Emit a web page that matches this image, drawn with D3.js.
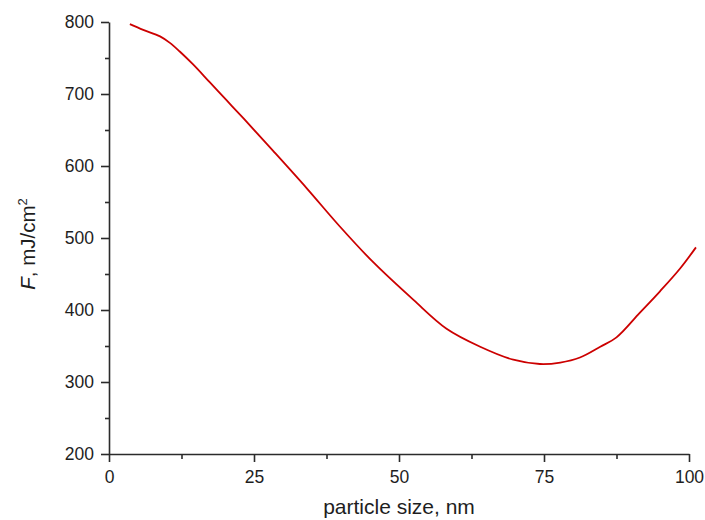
<!DOCTYPE html>
<html>
<head>
<meta charset="utf-8">
<script src="https://cdn.jsdelivr.net/npm/d3@7"></script>
<style>
  html, body { margin: 0; padding: 0; background: #fff; }
  svg { display: block; font-family: "Liberation Sans", Arial, sans-serif; }
</style>
</head>
<body>
<svg id="chart" width="705" height="520"></svg>
<script>
// Data
const sizeNm = [3.6, 5.9, 8.8, 10.5, 12.2, 14.5, 17.4, 20.3, 23.2, 28.3, 34.1, 39.8, 45.6, 52.5, 58.2, 64.0, 69.7, 74.3, 77.8, 81.2, 84.7, 87.5, 91.5, 95.0, 98.5, 101.2];
const fluence = [797, 789, 780, 771, 759, 741, 716, 691, 666, 621, 569, 516, 466, 414, 374, 349, 331, 325, 327, 334, 349, 362, 396, 426, 458, 487];
const xMajorTicks = [0, 25, 50, 75, 100];
const xMinorTicks = [12.5, 37.5, 62.5, 87.5];
const yMajorTicks = [200, 300, 400, 500, 600, 700, 800];
const yMinorTicks = [250, 350, 450, 550, 650, 750];
const xTitle = "particle size, nm";

const svg = d3.select("#chart");
const x = d3.scaleLinear().domain([0, 100]).range([109, 689]);
const y = d3.scaleLinear().domain([200, 800]).range([454, 22]);

const axisColor = "#2b2b2b";
const textColor = "#1e1e1e";

// minor ticks
svg.append("g").attr("transform", `translate(0,${y(200)})`)
  .call(d3.axisBottom(x).tickValues(xMinorTicks).tickSize(5).tickFormat(""))
  .call(g => g.select(".domain").remove())
  .call(g => g.selectAll("line").attr("stroke", axisColor).attr("stroke-width", 1.6));
svg.append("g").attr("transform", `translate(${x(0)},0)`)
  .call(d3.axisLeft(y).tickValues(yMinorTicks).tickSize(4).tickFormat(""))
  .call(g => g.select(".domain").remove())
  .call(g => g.selectAll("line").attr("stroke", axisColor).attr("stroke-width", 1.6));

// major axes
const xAxis = svg.append("g").attr("transform", `translate(0,${y(200)})`)
  .call(d3.axisBottom(x).tickValues(xMajorTicks).tickSize(8).tickSizeOuter(0).tickPadding(9).tickFormat(d3.format("d")));
const yAxis = svg.append("g").attr("transform", `translate(${x(0)},0)`)
  .call(d3.axisLeft(y).tickValues(yMajorTicks).tickSize(8).tickSizeOuter(0).tickPadding(7).tickFormat(d3.format("d")));

[xAxis, yAxis].forEach(g => {
  g.select(".domain").attr("stroke", axisColor).attr("stroke-width", 1.6);
  g.selectAll(".tick line").attr("stroke", axisColor).attr("stroke-width", 1.6);
  g.selectAll(".tick text").attr("fill", textColor).attr("font-size", 17.5)
    .attr("font-family", "'Liberation Sans', Arial, sans-serif");
});

// curve
const line = d3.line()
  .x((d, i) => x(sizeNm[i]))
  .y((d, i) => y(fluence[i]))
  .curve(d3.curveCatmullRom.alpha(0.5));
svg.append("path")
  .datum(fluence)
  .attr("d", line)
  .attr("fill", "none")
  .attr("stroke", "#cc0000")
  .attr("stroke-width", 1.8);

// axis titles
svg.append("text")
  .attr("x", 399).attr("y", 514)
  .attr("text-anchor", "middle")
  .attr("font-size", 21)
  .attr("fill", textColor)
  .text(xTitle);

const yt = svg.append("text")
  .attr("transform", "translate(35,244) rotate(-90)")
  .attr("text-anchor", "middle")
  .attr("font-size", 20.5)
  .attr("fill", textColor);
yt.append("tspan").attr("font-style", "italic").text("F");
yt.append("tspan").text(", mJ/cm");
yt.append("tspan").attr("font-size", 13).attr("dy", -8).text("2");
</script>
</body>
</html>
